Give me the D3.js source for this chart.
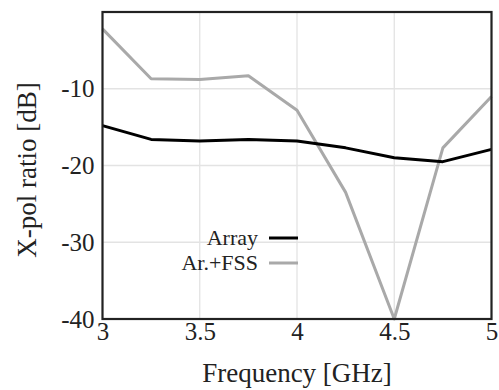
<!DOCTYPE html>
<html>
<head>
<meta charset="utf-8">
<script src="https://cdn.jsdelivr.net/npm/d3@7"></script>
<style>
  html, body { margin: 0; padding: 0; background: #fff; }
</style>
</head>
<body>
<svg id="chart" width="499" height="390"></svg>
<script>
// Frequency sweep, GHz
const freqs = [3, 3.25, 3.5, 3.75, 4, 4.25, 4.5, 4.75, 5];
// X-pol ratio in dB
const arrayDb = [-14.8, -16.6, -16.8, -16.6, -16.8, -17.7, -19.0, -19.5, -17.9];
const fssDb   = [-2.2, -8.7, -8.8, -8.3, -12.8, -23.5, -40.0, -17.7, -11.0];

const xTicks = [3, 3.5, 4, 4.5, 5];
const yTicks = [-40, -30, -20, -10];

const FONT = "font-family:'Liberation Serif',serif;fill:#222;";

const M = { top: 12, right: 7.5, bottom: 71, left: 102.5 };
const VW = 499, VH = 390;
const W = VW - M.left - M.right;
const H = VH - M.top - M.bottom;

const svg = d3.select("#chart");
const g = svg.append("g").attr("transform", `translate(${M.left},${M.top})`);

const x = d3.scaleLinear().domain([3, 5]).range([0, W]);
const y = d3.scaleLinear().domain([-40, 0]).range([H, 0]);

// grid
g.append("g").selectAll("line").data(xTicks).join("line")
  .attr("x1", d => x(d)).attr("x2", d => x(d))
  .attr("y1", 0).attr("y2", H)
  .attr("stroke", "#e3e3e3").attr("stroke-width", 1.3);
g.append("g").selectAll("line").data(yTicks).join("line")
  .attr("x1", 0).attr("x2", W)
  .attr("y1", d => y(d)).attr("y2", d => y(d))
  .attr("stroke", "#e3e3e3").attr("stroke-width", 1.3);

// axes (labels only, frame drawn separately)
const xAx = g.append("g").attr("transform", `translate(0,${H})`)
  .call(d3.axisBottom(x).tickValues(xTicks).tickSize(0).tickPadding(16).tickFormat(d3.format("")));
const yAx = g.append("g")
  .call(d3.axisLeft(y).tickValues(yTicks).tickSize(0).tickPadding(8).tickFormat(d => String(d)));
[xAx, yAx].forEach(ax => {
  ax.attr("font-family", null);
  ax.select(".domain").remove();
  ax.selectAll("text").attr("style", FONT + "font-size:25px");
});
xAx.selectAll("text").attr("dy", "0.2em");

// series
const line = d3.line().x((d, i) => x(freqs[i])).y(d => y(d));
g.append("path").datum(fssDb).attr("d", line)
  .attr("fill", "none").attr("stroke", "#a9a9a9").attr("stroke-width", 3).attr("stroke-linejoin", "round");
g.append("path").datum(arrayDb).attr("d", line)
  .attr("fill", "none").attr("stroke", "#000").attr("stroke-width", 3).attr("stroke-linejoin", "round");

// frame
g.append("rect").attr("width", W).attr("height", H)
  .attr("fill", "none").attr("stroke", "#222").attr("stroke-width", 2.2);

// legend
const legend = [
  { name: "Array", color: "#000" },
  { name: "Ar.+FSS", color: "#a9a9a9" }
];
const lg = svg.append("g").attr("transform", "translate(258,238)");
legend.forEach((d, i) => {
  const row = lg.append("g").attr("transform", `translate(0,${i * 25})`);
  row.append("text").attr("text-anchor", "end").attr("dy", "0.32em")
    .attr("style", FONT + "font-size:22px").text(d.name);
  row.append("line").attr("x1", 11).attr("x2", 40)
    .attr("stroke", d.color).attr("stroke-width", 3);
});

// axis titles
svg.append("text").attr("x", M.left + W / 2).attr("y", 382)
  .attr("text-anchor", "middle").attr("style", FONT + "font-size:27px").text("Frequency [GHz]");
svg.append("text").attr("transform", `translate(36,170) rotate(-90)`)
  .attr("text-anchor", "middle").attr("style", FONT + "font-size:27px").text("X-pol ratio [dB]");
</script>
</body>
</html>
